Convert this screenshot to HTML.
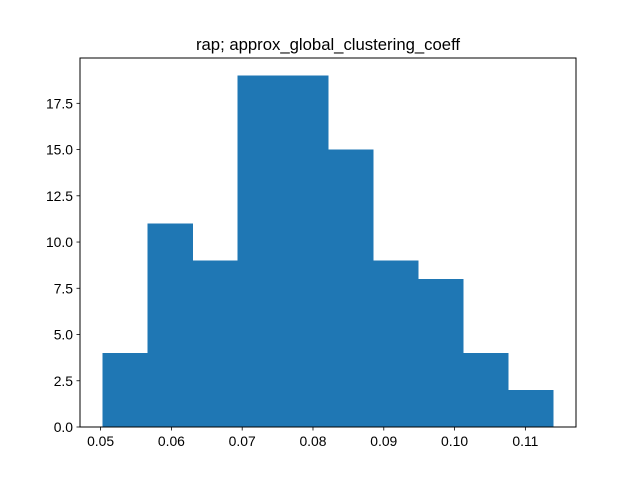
<!DOCTYPE html>
<html><head><meta charset="utf-8"><style>
body{margin:0;background:#fff;}
svg{display:block;font-family:"Liberation Sans","DejaVu Sans",sans-serif;}
</style></head><body>
<svg id="chart" width="640" height="480" viewBox="0 0 640 480">
<rect width="640" height="480" fill="#fff"/>
<text x="328" y="50" font-size="16.7" text-anchor="middle">rap; approx_global_clustering_coeff</text>
<g id="bars" shape-rendering="crispEdges"></g>
<g id="xaxis"></g>
<g id="yaxis"></g>
<rect x="80" y="58" width="496" height="369" fill="none" stroke="#000" stroke-width="1"/>
</svg>
<script>
const binStart = 0.05028;
const binWidth = 0.006368;
const counts = [4, 11, 9, 19, 19, 15, 9, 8, 4, 2];
const xTicks = [0.05, 0.06, 0.07, 0.08, 0.09, 0.10, 0.11];
const xTickLabels = ["0.05", "0.06", "0.07", "0.08", "0.09", "0.10", "0.11"];
const yTicks = [0, 2.5, 5, 7.5, 10, 12.5, 15, 17.5];
const yTickLabels = ["0.0", "2.5", "5.0", "7.5", "10.0", "12.5", "15.0", "17.5"];

const NS = "http://www.w3.org/2000/svg";
const L = 80, R = 576, T = 58, B = 427;
const xMin = 0.04709, xMax = 0.11715;
const yMax = 19.95;
const xs = v => L + (v - xMin) / (xMax - xMin) * (R - L);
const ys = v => B - v / yMax * (B - T);
function mk(tag, attrs, parent) {
  const e = document.createElementNS(NS, tag);
  for (const k in attrs) e.setAttribute(k, attrs[k]);
  parent.appendChild(e);
  return e;
}
const bars = document.getElementById('bars');
counts.forEach((c, i) => {
  const x0 = xs(binStart + i * binWidth), x1 = xs(binStart + (i + 1) * binWidth);
  const r = mk('rect', {x: x0, y: ys(c), width: x1 - x0, height: B - ys(c), fill: '#1f77b4', stroke: '#1f77b4', 'stroke-width': 0.5}, bars);
  
  
});
const xa = document.getElementById('xaxis');
xTicks.forEach((v, i) => {
  const x = xs(v);
  const t = mk('line', {x1: x, x2: x, y1: B, y2: B + 3.5, stroke: '#000', 'stroke-width': 0.8}, xa);
  
  
  const tx = mk('text', {x: x, y: B + 19, 'font-size': 13.9, 'text-anchor': 'middle'}, xa);
  tx.textContent = xTickLabels[i];
  
  
});
const ya = document.getElementById('yaxis');
yTicks.forEach((v, i) => {
  const y = ys(v);
  const t = mk('line', {x1: L - 3.5, x2: L, y1: y, y2: y, stroke: '#000', 'stroke-width': 0.8}, ya);
  
  
  const tx = mk('text', {x: L - 7, y: y + 5, 'font-size': 13.9, 'text-anchor': 'end'}, ya);
  tx.textContent = yTickLabels[i];
  
  
});
</script>
</body></html>
